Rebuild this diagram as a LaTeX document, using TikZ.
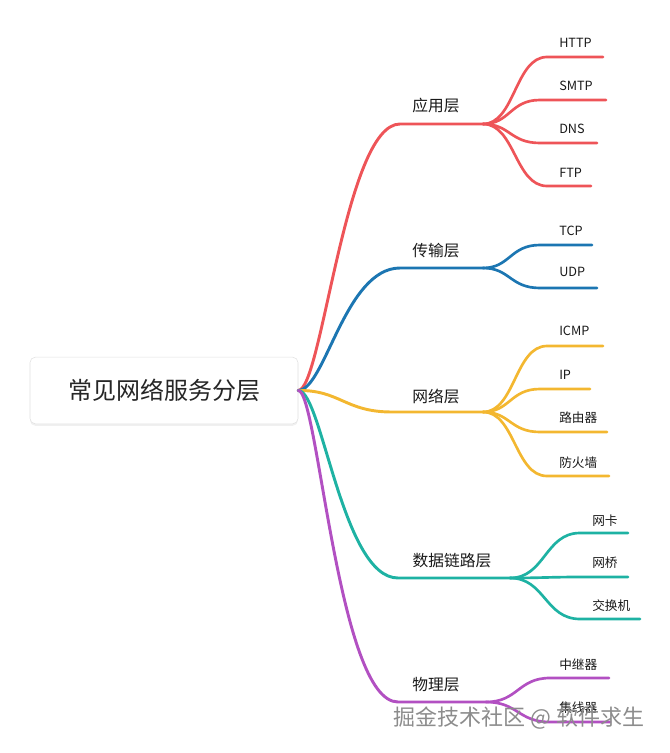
\documentclass[tikz,border=0pt]{standalone}
\usepackage{fontspec}
\setmainfont{Noto Sans CJK SC}
\usetikzlibrary{shadows}
\definecolor{appred}{RGB}{238,84,88}
\definecolor{transblue}{RGB}{28,118,178}
\definecolor{netyellow}{RGB}{243,183,48}
\definecolor{linkteal}{RGB}{30,178,163}
\definecolor{phypurple}{RGB}{178,80,194}
\begin{document}
\begin{tikzpicture}[x=0.75pt,y=-0.75pt,
  rootbox/.style={draw=black!12,fill=white,rounded corners=4pt,minimum width=201pt,minimum height=50pt,
    font=\fontsize{18}{21}\selectfont,text=black!85,drop shadow={shadow xshift=0pt,shadow yshift=-1.5pt,opacity=0.12}},
  mid/.style={font=\fontsize{11.8}{14}\selectfont,text=black!90,inner sep=0pt},
  leaf/.style={font=\fontsize{9.5}{11}\selectfont,text=black!90,anchor=west,inner sep=0pt},
  br/.style={line width=2.2pt,line cap=round},
  lf/.style={line width=2pt,line cap=round},
  wmark/.style={font=\fontsize{16.5}{20}\selectfont,text=black!45,inner sep=0pt}]
  \useasboundingbox (0,0) rectangle (669,753);
  \node[rootbox] (root) at (164,390.5) {常见网络服务分层};
  % level nodes
  \coordinate (app) at (483,124);
  \coordinate (trans) at (483,268);
  \coordinate (net) at (483,412);
  \coordinate (link) at (510,578);
  \coordinate (phy) at (486,702);
  \node[mid] (appl) at (436,106) {应用层};
  \node[mid] (transl) at (436,251) {传输层};
  \node[mid] (netl) at (436,396) {网络层};
  \node[mid] (linkl) at (452,561) {数据链路层};
  \node[mid] (phyl) at (436,685) {物理层};
  \draw[br,appred] (root.east) .. controls (322,390) and (345,124) .. (400,124) -- (app);
  \draw[br,transblue] (root.east) .. controls (325,390) and (345,268) .. (400,268) -- (trans);
  \draw[br,netyellow] (root.east) .. controls (340,390) and (345,412) .. (392,412) -- (net);
  \draw[br,linkteal] (root.east) .. controls (322,390) and (342,578) .. (398,578) -- (link);
  \draw[br,phypurple] (root.east) .. controls (318,390) and (338,702) .. (398,702) -- (phy);
  % leaves
  \node[leaf] (http) at (559,43) {HTTP};
  \node[leaf] (smtp) at (559,86) {SMTP};
  \node[leaf] (dns) at (559,129) {DNS};
  \node[leaf] (ftp) at (559,173) {FTP};
  \node[leaf] (tcp) at (559,231) {TCP};
  \node[leaf] (udp) at (559,272) {UDP};
  \node[leaf] (icmp) at (559,331) {ICMP};
  \node[leaf] (ip) at (559,375) {IP};
  \node[leaf] (router) at (559,418) {路由器};
  \node[leaf] (fw) at (559,463) {防火墙};
  \node[leaf] (nic) at (592,521) {网卡};
  \node[leaf] (bridge) at (592,563) {网桥};
  \node[leaf] (switch) at (592,606) {交换机};
  \node[leaf] (rep) at (559,665) {中继器};
  \node[leaf] (hub) at (559,708) {集线器};
  \coordinate (http-e) at (603,57);
  \coordinate (smtp-e) at (606,100);
  \coordinate (dns-e) at (597,143);
  \coordinate (ftp-e) at (591,186);
  \coordinate (tcp-e) at (592,245);
  \coordinate (udp-e) at (597,288);
  \coordinate (icmp-e) at (603,346);
  \coordinate (ip-e) at (590,389);
  \coordinate (router-e) at (607,432);
  \coordinate (fw-e) at (609,476);
  \coordinate (nic-e) at (628,533);
  \coordinate (bridge-e) at (628,577);
  \coordinate (switch-e) at (640,619);
  \coordinate (rep-e) at (609,678);
  \coordinate (hub-e) at (610,722);
  \draw[lf,appred] (app) .. controls (515,124) and (515,57) .. (547,57) -- (http-e);
  \draw[lf,appred] (app) .. controls (510,124) and (510,100) .. (540,100) -- (smtp-e);
  \draw[lf,appred] (app) .. controls (510,124) and (510,143) .. (540,143) -- (dns-e);
  \draw[lf,appred] (app) .. controls (515,124) and (515,186) .. (547,186) -- (ftp-e);
  \draw[lf,transblue] (trans) .. controls (510,268) and (510,245) .. (540,245) -- (tcp-e);
  \draw[lf,transblue] (trans) .. controls (510,268) and (510,288) .. (540,288) -- (udp-e);
  \draw[lf,netyellow] (net) .. controls (515,412) and (515,346) .. (547,346) -- (icmp-e);
  \draw[lf,netyellow] (net) .. controls (510,412) and (510,389) .. (540,389) -- (ip-e);
  \draw[lf,netyellow] (net) .. controls (510,412) and (510,432) .. (540,432) -- (router-e);
  \draw[lf,netyellow] (net) .. controls (515,412) and (515,476) .. (547,476) -- (fw-e);
  \draw[lf,linkteal] (link) .. controls (545,578) and (545,533) .. (580,533) -- (nic-e);
  \draw[lf,linkteal] (link) .. controls (540,578) and (550,577) .. (580,577) -- (bridge-e);
  \draw[lf,linkteal] (link) .. controls (545,578) and (545,619) .. (580,619) -- (switch-e);
  \draw[lf,phypurple] (phy) .. controls (518,702) and (518,678) .. (550,678) -- (rep-e);
  \draw[lf,phypurple] (phy) .. controls (518,702) and (518,722) .. (550,722) -- (hub-e);
  % watermark
  \node[wmark] (wm) at (519,718) {掘金技术社区 @ 软件求生};
\end{tikzpicture}
\end{document}
